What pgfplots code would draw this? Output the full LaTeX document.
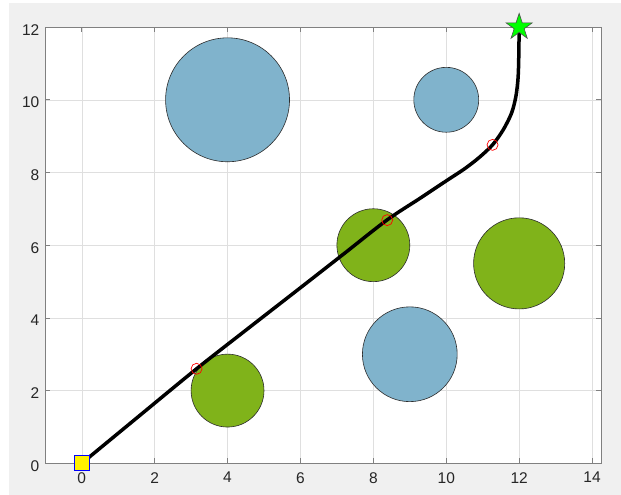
\documentclass[border=0pt]{standalone}
\usepackage{fontspec}
\setmainfont{Liberation Sans}
\usepackage{pgfplots}
\pgfplotsset{compat=1.18}
\definecolor{bg}{RGB}{240,240,240}
\definecolor{obsblue}{RGB}{128,179,204}
\definecolor{obsgreen}{RGB}{128,179,26}
\definecolor{axgray}{RGB}{128,128,128}
\definecolor{gridgray}{RGB}{223,223,223}
\definecolor{ticktext}{RGB}{38,38,38}
\definecolor{edgegray}{RGB}{45,45,45}
\pgfdeclareplotmark{pentagram}{%
  \pgfpathmoveto{\pgfpointpolar{90}{\pgfplotmarksize}}%
  \pgfpathlineto{\pgfpointpolar{126}{0.382\pgfplotmarksize}}%
  \pgfpathlineto{\pgfpointpolar{162}{\pgfplotmarksize}}%
  \pgfpathlineto{\pgfpointpolar{198}{0.382\pgfplotmarksize}}%
  \pgfpathlineto{\pgfpointpolar{234}{\pgfplotmarksize}}%
  \pgfpathlineto{\pgfpointpolar{270}{0.382\pgfplotmarksize}}%
  \pgfpathlineto{\pgfpointpolar{306}{\pgfplotmarksize}}%
  \pgfpathlineto{\pgfpointpolar{342}{0.382\pgfplotmarksize}}%
  \pgfpathlineto{\pgfpointpolar{18}{\pgfplotmarksize}}%
  \pgfpathlineto{\pgfpointpolar{54}{0.382\pgfplotmarksize}}%
  \pgfpathclose
  \pgfusepathqfillstroke
}
\pgfplotstableread{
x y r
4 10 1.7
10 10 0.89
9 3 1.3
}\blueobs
\pgfplotstableread{
x y r
8 6 1.0
12 5.5 1.25
4 2 1.0
}\greenobs
\begin{document}
\begin{tikzpicture}
\useasboundingbox (0pt,0pt) rectangle (621pt,495pt);
\fill[white] (0pt,0pt) rectangle (621pt,495pt);
\fill[bg] (9pt,0pt) rectangle (621pt,492pt);
\begin{axis}[
  at={(45.3pt,31.7pt)}, anchor=south west,
  x=36.45pt, y=36.35pt,
  xmin=-1, xmax=14.25, ymin=0, ymax=12,
  xtick={0,2,...,14}, ytick={0,2,...,12},
  axis background/.style={fill=white},
  axis line style={axgray, line width=0.7pt},
  tick style={axgray, line width=0.6pt},
  major tick length=5pt,
  tick align=inside,
  grid=major,
  major grid style={gridgray, line width=0.5pt},
  ticklabel style={font=\fontsize{15.5}{17}\selectfont, text=ticktext},
  /pgf/number format/assume math mode=true,
  xticklabel style={yshift=-5.5pt},
  yticklabel style={xshift=-2.5pt, yshift=-2.5pt},
  clip=false,
  clip marker paths=true,
]
\addplot[only marks, scatter, mark=*,
  scatter/use mapped color={draw=edgegray, fill=obsblue},
  visualization depends on={36.45*\thisrow{r} \as \rad},
  scatter/@pre marker code/.append style={/tikz/mark size=\rad},
  mark options={line width=0.6pt}] table[x=x,y=y] {\blueobs};
\addplot[only marks, scatter, mark=*,
  scatter/use mapped color={draw=edgegray, fill=obsgreen},
  visualization depends on={36.45*\thisrow{r} \as \rad},
  scatter/@pre marker code/.append style={/tikz/mark size=\rad},
  mark options={line width=0.6pt}] table[x=x,y=y] {\greenobs};
\addplot[black, line width=3.5pt, smooth, no markers] coordinates {
(0,0) (1.5,1.24) (3.15,2.6) (4.5,3.66) (6.0,4.83) (7.2,5.77) (8.37,6.69)
(9.28,7.29) (10.0,7.77) (10.5,8.1) (10.9,8.41) (11.27,8.76) (11.56,9.17)
(11.79,9.63) (11.91,10.09) (11.97,10.6) (11.99,11.2) (12,12)
};
\addplot[only marks, mark=o, mark size=5.5pt, mark options={red, line width=0.7pt}] coordinates {
(3.15,2.6) (8.38,6.69) (11.27,8.76)
};
\addplot[only marks, mark=square*, mark size=7.5pt, mark options={fill=yellow, draw=blue, line width=0.7pt}] coordinates {(0,0)};
\addplot[only marks, mark=pentagram, mark size=13.8pt, mark options={fill=green, draw=black!70, line width=0.6pt}] coordinates {(12,12)};
\end{axis}
\end{tikzpicture}
\end{document}
